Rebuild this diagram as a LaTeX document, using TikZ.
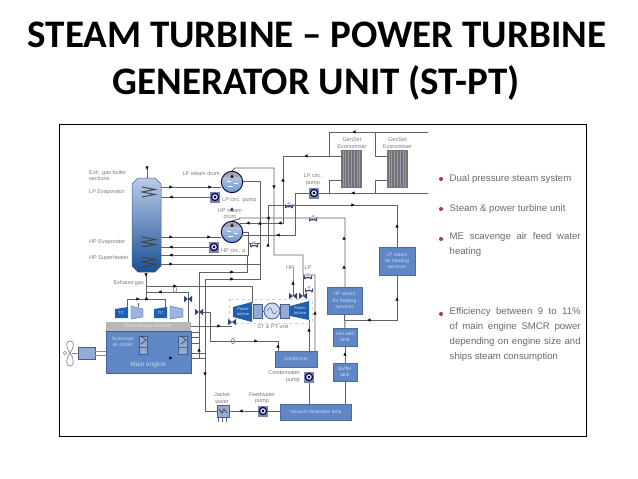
\documentclass[tikz,border=0pt]{standalone}
\usepackage{fontspec}
\setmainfont{Liberation Sans}
\newfontfamily\titlefont{Carlito}
\usetikzlibrary{calc}
\definecolor{pipecol}{HTML}{626262}
\definecolor{boxblue}{HTML}{5F87C6}
\definecolor{boxtext}{HTML}{C9D8F0}
\definecolor{labelgray}{HTML}{7A7A7A}
\definecolor{bodygray}{HTML}{6A6A6A}
\definecolor{tcdark}{HTML}{1E5FAE}
\definecolor{tclight}{HTML}{9DB4E2}
\definecolor{partlight}{HTML}{93A9D6}
\definecolor{bulletred}{HTML}{B03060}
\definecolor{valvecol}{HTML}{34466E}
\tikzset{
  pipe/.style={draw=pipecol,line width=0.95pt},
  bx/.style={draw=boxblue!80!black,line width=0.4pt,fill=boxblue,text=boxtext,inner sep=0pt,align=center,font=\fontsize{5}{6.2}\selectfont},
  lab/.style={text=labelgray,inner sep=0pt,font=\fontsize{5.5}{6.4}\selectfont},
  labc/.style={lab,align=center},
  labl/.style={lab,anchor=west,align=left},
  labr/.style={lab,anchor=east,align=right},
  body/.style={text=bodygray,inner sep=0pt,anchor=west,font=\fontsize{9.6}{15}\selectfont},
  ttl/.style={inner sep=0pt,text=black,font=\titlefont\bfseries\fontsize{39}{46}\selectfont},
  part/.style={draw=boxblue!70!black,line width=0.4pt,fill=partlight,inner sep=0pt},
  pumpbox/.style={draw=none,fill=partlight!80!black,minimum width=10pt,minimum height=11pt,inner sep=0pt},
}
% small flow mark
\newcommand\mk[3]{\fill[black,shift={(#1,#2)},rotate=#3] (-1.7,-1.7)--(1.7,0)--(-1.7,1.7)--cycle;}
% pump
\newcommand\pmp[3]{\node[pumpbox] (#1) at (#2,#3) {};
  \fill[black!75!blue] (#2,#3) circle (4.2);
  \fill[white!85!blue] (#2,#3) circle (2.8);
  \fill[black] (#2,#3) circle (1.3);}
% valve in the form of a small arch with feet
\newcommand\vlv[2]{\begin{scope}[shift={(#1,#2)}]
  \fill[valvecol] (-4,4)--(-4,-0.5) arc (180:0:4)--(4,4)--(1.8,4)--(1.8,1.8)--(-1.8,1.8)--(-1.8,4)--cycle;
  \fill[partlight!70!white] (0,-0.6) circle (1.8);
  \end{scope}}
% double cone valve
\newcommand\dvl[2]{\fill[valvecol,shift={(#1,#2)}] (-4,-3.2)--(0,0)--(-4,3.2)--cycle (4,-3.2)--(0,0)--(4,3.2)--cycle;}
% drum
\newcommand\drm[3]{\node[circle,draw=none,minimum size=21.4pt,inner sep=0pt] (#1) at (#2,#3) {};
  \shade[top color=tclight!60,bottom color=tcdark!65] (#2,#3) circle (10.7);
  \begin{scope}\clip (#2,#3) circle (10.7);
  \fill[black!35] (#2-11,#3-11) rectangle (#2+11,#3-5.5);
  \draw[white,line width=0.5pt] (#2-5,#3-1)--(#2-1,#3-1) (#2+2,#3+1)--(#2+6,#3+1) (#2-4,#3+4)--(#2+1,#3+4);
  \end{scope}
  \draw[black!70!blue,line width=0.9pt] (#2,#3) circle (10.7);}
% coil
\newcommand\coil[3]{\draw[black!75,line width=0.9pt] (#1,#2)--(#1+13,#2+#3*0.25)--(#1,#2+#3*0.5)--(#1+13,#2+#3*0.75)--(#1,#2+#3);}
% economiser
\newcommand\econ[3]{\node[draw=none,fill=black!55,minimum width=21pt,minimum height=38pt,inner sep=0pt] (#1) at (#2,#3) {};
  \foreach \i in {-8.4,-5.6,...,8.5}{\draw[tclight!55!gray,line width=1.1pt] (#2+\i,#3-19)--(#2+\i,#3+19);}
  \draw[black!55,line width=1pt] (#2-10.5,#3-18.5)--(#2+10.5,#3-18.5) (#2-10.5,#3+18.5)--(#2+10.5,#3+18.5);}
\begin{document}
\begin{tikzpicture}[x=1pt,y=-1pt]
\useasboundingbox (0,0) rectangle (638,479);
\fill[white] (0,0) rectangle (638,479);
% title
\node[ttl] (t1) at (317,35) {STEAM TURBINE – POWER TURBINE};
\node[ttl] (t2) at (316,83) {GENERATOR UNIT (ST-PT)};
% frame
\draw[black,line width=1pt] (59,124) rectangle (586,436);

% ------ boxes first so that pipes can name them
\node[bx,minimum width=36pt,minimum height=28pt] (lpheat) at (397,261) {LP steam\\for heating\\services};
\node[bx,minimum width=35pt,minimum height=27pt] (hpheat) at (344.5,300.5) {HP steam\\for heating\\services};
\node[bx,minimum width=24pt,minimum height=18pt] (hotwell) at (345,337) {Hot well\\tank};
\node[bx,minimum width=24pt,minimum height=18pt] (buffer) at (345,372) {Buffer\\tank};
\node[bx,minimum width=71pt,minimum height=16pt] (vac) at (315.5,412) {Vacuum deaerator tank};
\node[bx,minimum width=42pt,minimum height=16pt] (cond) at (296,359) {Condenser};
\coordinate (bLP1) at (161,187);
\coordinate (bLP2) at (161,197);
\coordinate (bHP1) at (161,237);
\coordinate (bHP2) at (161,247);
\coordinate (bSH1) at (161,255);
\coordinate (bSH2) at (161,264);

% ------ pipes
\draw[pipe] (147,178)--(147,167);
\draw[pipe] (bLP1)--(221,187);
\draw[pipe] (bLP2)--(210,197);
\draw[pipe] (bHP1)--(221,237);
\draw[pipe] (bHP2)--(209,247);
\draw[pipe] (bSH1)--(248,255)--(248,232)--(242,232);
\draw[pipe] (bSH2)--(260,264)--(260,181)--(242,181);
% LP drum top return
\draw[pipe] (232,171)--(235,168)--(274,168)--(274,255)--(303,255)--(303,275)--(315,275)--(315,351);
\draw[pipe] (232,221)--(239,219)--(240,218)--(345,218)--(345,287);
\draw[pipe] (240,223)--(283,223)--(283,156)--(341,156);
\draw[pipe] (243,235)--(295,235)--(295,193)--(428,193);
\draw[pipe] (268,205)--(397,205)--(397,247);
\draw[pipe] (268,205)--(268,245);
\draw[pipe] (248,243)--(260,243);
\draw[pipe] (329,156)--(329,132)--(428,132);
\draw[pipe] (375,132)--(375,156)--(387,156);
\draw[pipe] (329,193)--(329,180)--(341,180);
\draw[pipe] (375,193)--(375,180)--(387,180);
\draw[pipe] (lpheat.south)--(397,320)--(345,320);
\draw[pipe] (hpheat.south)--(hotwell.north);
\draw[pipe] (hotwell.south)--(buffer.north);
\draw[pipe] (buffer.south)--(345,404);
\draw[pipe] (309,320)--(309,351);
\draw[pipe] (293,283)--(293,267)--(293,296);
\draw[pipe] (303,275)--(303,296);
\draw[pipe] (309,372)--(309,404);
% exhaust side
\draw[pipe] (146,273)--(146,299);
\draw[pipe] (146,286)--(252,286)--(252,303);
\draw[pipe] (146,292)--(188,292)--(188,322);
\draw[pipe] (127,307)--(127,299)--(165,299)--(165,307);
\draw[pipe] (138,307)--(138,303);
\draw[pipe] (199,272)--(247,272)--(247,255);
\draw[pipe] (205,279)--(260,279)--(260,264);
\draw[pipe] (199,272)--(199,358);
\draw[pipe] (205,279)--(205,411)--(217,411);
\draw[pipe] (229,411)--(258,411);
\draw[pipe] (268,411)--(280,411);
\draw[pipe] (191,326)--(232,326);
\draw[pipe] (199,312)--(210,312)--(210,341)--(278,341)--(278,351);
% engine side
\draw[pipe] (147,337)--(157,337)--(157,332)--(199,332);
\draw[pipe] (147,343)--(157,343)--(157,358)--(205,358);
\draw[pipe] (187,337)--(199,337);
\draw[pipe] (187,343)--(199,343);
\draw[pipe] (191,353)--(205,353);
\draw[pipe] (222,417)--(222,422) (226,417)--(226,422) (218,417)--(218,422);

% ------ boiler
\shade[top color=tclight!70,middle color=tclight!92!white,bottom color=tcdark!85!black]
  (138,178)--(155,178)--(161,184)--(161,266)--(155,272)--(138,272)--(132,266)--(132,184)--cycle;
\draw[boxblue!70!black,line width=0.5pt]
  (138,178)--(155,178)--(161,184)--(161,266)--(155,272)--(138,272)--(132,266)--(132,184)--cycle;
\coil{142}{187}{10}
\coil{142}{237}{10}
\coil{142}{257}{10}

% ------ drums and pumps
\drm{lpdrum}{232}{182}
\drm{hpdrum}{232}{232}
\pmp{lppump}{215}{197}
\pmp{hppump}{214}{247}
\pmp{lpcirc}{314}{193}
\pmp{condpump}{309}{377}
\pmp{feedpump}{263}{411}

% ------ economisers
\econ{eco1}{351.5}{169}
\econ{eco2}{397.5}{169}

% ------ engine
\node[draw=none,fill=black!28,minimum width=85pt,minimum height=9pt,inner sep=0pt,text=black!12,font=\fontsize{5}{6}\selectfont] (band) at (148.5,326.5) {Exhaust gas receiver};
\node[draw=none,fill=boxblue,minimum width=85pt,minimum height=42pt,inner sep=0pt] (engine) at (148.5,352) {};
\draw[boxblue!70!black,line width=0.6pt] (106,331) rectangle (191,373);
\node[text=boxtext,inner sep=0pt,align=center,font=\fontsize{5}{6}\selectfont] (scav) at (123,342) {Scavenge\\air cooler};
\node[text=boxtext,inner sep=0pt,font=\fontsize{6.5}{8}\selectfont] (melab) at (148,365) {Main engine};
\node[part,minimum width=8pt,minimum height=18pt] (cool1) at (143,345) {};
\node[part,minimum width=9pt,minimum height=18pt] (cool2) at (182.5,345) {};
\draw[black!75,line width=0.7pt] (141,336)--(146,340)--(141,344);
\draw[black!75,line width=0.7pt] (181,336)--(186,340)--(181,344);
\draw[pipe] (139,347)--(147,347);
\draw[pipe] (178,347)--(187,347);

% ------ turbochargers
\fill[tcdark] (115,309)--(128,307)--(128,318)--(115,318)--cycle;
\fill[tclight,draw=boxblue!70!black,line width=0.3pt] (131,306)--(143,309)--(143,317)--(131,319)--cycle;
\fill[tcdark] (154,309)--(167,307)--(167,318)--(154,318)--cycle;
\fill[tclight,draw=boxblue!70!black,line width=0.3pt] (170,306)--(183,309)--(183,317)--(170,319)--cycle;
\node[text=boxtext,inner sep=0pt,font=\fontsize{4.5}{5}\selectfont] (tc1) at (121,312.5) {TC};
\node[text=boxtext,inner sep=0pt,font=\fontsize{4.5}{5}\selectfont] (tc2) at (160.5,312.5) {TC};

% ------ propeller and motor
\draw[boxblue!30!black!55,line width=0.7pt,fill=white] (70,353)..controls (65,345) and (66,341) ..(70,341)..controls (74,341) and (75,346) ..(70,353)..controls (75,360) and (74,366) ..(70,366)..controls (66,366) and (65,360) ..(70,353)--cycle;
\draw[black!45,line width=0.6pt] (65,353) circle (1.8);
\node[part,minimum width=17pt,minimum height=12pt] (motor) at (86.5,353) {};
\draw[black!45,line width=0.5pt] (95,351)--(106,351) (95,355)--(106,355);
\draw[black!45,line width=0.5pt] (72,353)--(motor.west);

% ------ ST & PT unit
\draw[tclight!60,dashed,line width=0.6pt] (229,299) rectangle (312,323);
\fill[tcdark] (233,307)--(252,302)--(252,322)--(233,317)--cycle;
\node[part,minimum width=9pt,minimum height=14pt] (gear1) at (257.5,311) {};
\node[circle,draw=boxblue!70!black,fill=tclight!50,line width=0.8pt,minimum size=16pt,inner sep=0pt] (gen) at (272,311) {};
\draw[black!55,line width=0.6pt] (267,311) .. controls (269,307) and (271,307) .. (272,311) .. controls (273,315) and (275,315) .. (277,311);
\node[part,minimum width=9pt,minimum height=14pt] (gear2) at (285,311) {};
\fill[tcdark] (290,306)--(309,301)--(309,320)--(290,316)--cycle;
\draw[pipecol,line width=0.8pt] (gear1)--(gen) (gen)--(gear2);
\node[text=boxtext,inner sep=0pt,align=center,font=\fontsize{4}{5}\selectfont] (ptlab) at (243,312) {Power\\turbine};
\node[text=boxtext,inner sep=0pt,align=center,font=\fontsize{4}{5}\selectfont] (stlab) at (300,311) {Steam\\turbine};

% ------ jacket water
\node[part,minimum width=12pt,minimum height=12pt] (jacket) at (223,411) {};
\draw[black!75,line width=0.7pt] (219,409)--(222,413)--(224,409)--(227,413);

% ------ valves
\vlv{289}{204}
\vlv{313}{217}
\vlv{254}{243}
\vlv{308}{275}
\vlv{309}{288}
\dvl{293}{296}
\dvl{303}{296}
\dvl{188}{299}
\dvl{199}{312}
\dvl{232}{322}
\draw[black!50,line width=0.6pt] (175,289.5) ellipse (1.6 and 3);
\draw[black!50,line width=0.6pt] (233,341) ellipse (1.6 and 3);

% ------ flow marks
\mk{171}{187}{0}\mk{210}{187}{0}\mk{171}{197}{180}
\mk{171}{237}{0}\mk{209}{237}{0}\mk{171}{247}{180}
\mk{171}{255}{180}\mk{171}{264}{0}
\mk{232}{272}{0}\mk{232}{279}{0}\mk{175}{286}{0}\mk{160}{292}{180}
\mk{274}{187}{-90}\mk{283}{180}{90}\mk{306}{156}{180}
\mk{354}{132}{180}\mk{353}{193}{180}\mk{353}{205}{0}
\mk{280}{223}{180}\mk{278}{235}{180}\mk{268}{245}{90}
\mk{260}{223}{90}\mk{248}{223}{180}\mk{268}{218}{180}
\mk{344}{238}{90}\mk{344}{267}{90}
\mk{397}{226}{90}\mk{397}{299}{90}\mk{369}{320}{180}
\mk{315}{313}{90}\mk{309}{330}{90}\mk{345}{354}{90}
\mk{293}{283}{90}\mk{278}{346}{90}\mk{256}{341}{0}
\mk{219}{326}{0}\mk{199}{350}{90}\mk{205}{374}{-90}
\mk{171}{358}{0}\mk{241}{411}{180}\mk{147}{168}{-90}
\mk{147}{299}{0}\mk{138}{299}{0}\mk{146}{275}{-90}
\mk{232}{176}{90}\mk{232}{209}{90}\mk{232}{225}{90}

% ------ labels
\node[labl] (l1) at (89,175.5) {Exh. gas boiler\\sections};
\node[labl] (l2) at (89,192) {LP Evaporator};
\node[labl] (l3) at (89,242) {HP Evaporator};
\node[labl] (l4) at (89,258) {HP Superheater};
\node[labr] (l5) at (144,283) {Exhaust gas};
\node[labr] (l6) at (220,174) {LP steam drum};
\node[labl] (l7) at (222,200) {LP circ. pump};
\node[labc] (l8) at (230,213.5) {HP steam\\drum};
\node[labl] (l9) at (221,251) {HP circ. p.};
\node[labc] (l10) at (313,179.5) {LP circ.\\pump};
\node[labc] (l11) at (352,143) {GenSet\\Economiser};
\node[labc] (l12) at (397.5,143) {GenSet\\Economiser};
\node[labc] (l13) at (290,268) {HP};
\node[labc] (l14) at (308,268) {LP};
\node[labc] (l15) at (273,327) {ST \& PT unit};
\node[labr] (l16) at (300,376.5) {Condensater\\pump};
\node[labc] (l17) at (262,398) {Feedwater\\pump};
\node[labc] (l18) at (222,398) {Jacket\\water};

% ------ bullets
\foreach \yy in {179,209,239,314}{\fill[bulletred] (441,\yy) circle (2);}
\node[body] (b1) at (449.5,179) {Dual pressure steam system};
\node[body] (b2) at (449.5,209) {Steam \& power turbine unit};
\node[body,text width=131pt,align=justify,anchor=north west] (b3) at (449.5,232.5) {ME scavenge air feed water heating};
\node[body,text width=131pt,align=justify,anchor=north west] (b4) at (449.5,307.5) {Efficiency between 9 to 11\% of main engine SMCR power depending on engine size and ships steam consumption};
\end{tikzpicture}
\end{document}
